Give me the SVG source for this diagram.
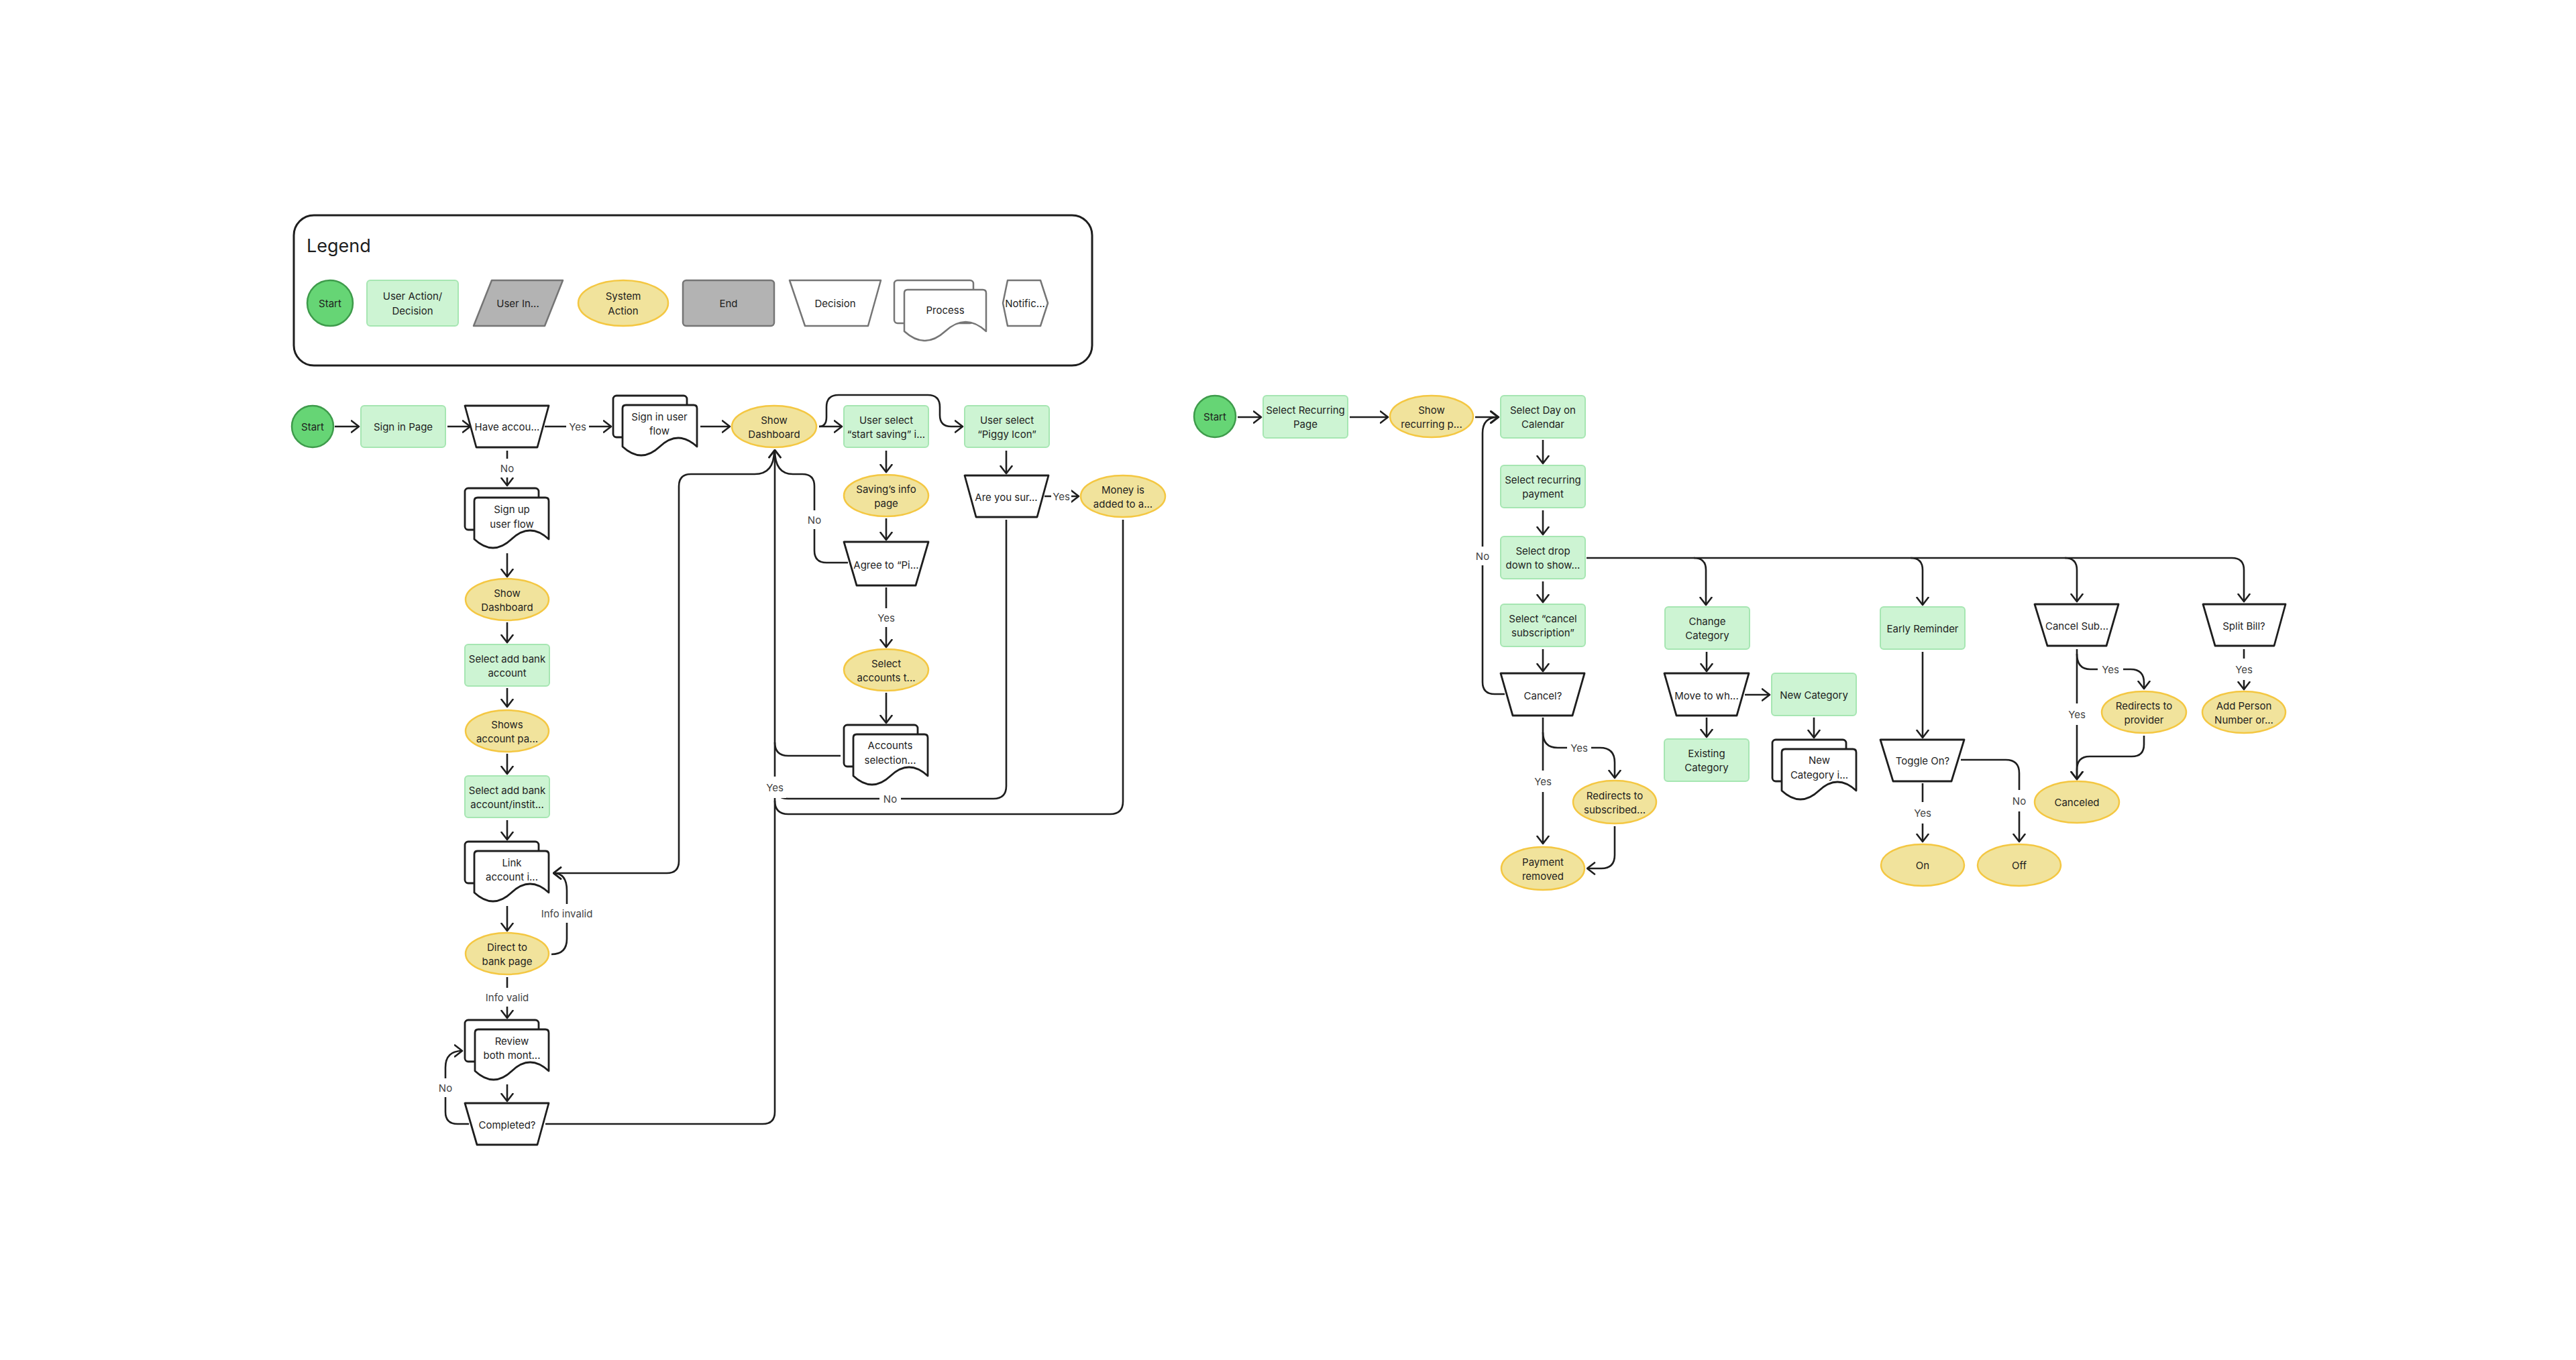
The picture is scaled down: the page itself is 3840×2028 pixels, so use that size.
<svg xmlns="http://www.w3.org/2000/svg" width="3840" height="2028" viewBox="0 0 3840 2028">
<defs>
<style>
text{font-family:Inter,"Noto Sans","Liberation Sans",sans-serif;font-size:15px;fill:#1e1e1e;text-anchor:middle;dominant-baseline:central}
.lbl{fill:#444}
.lb{fill:#fff}
.g{fill:#cdf4d3;stroke:#a6e6b2;stroke-width:2}
.y{fill:#f1e39c;stroke:#f4c742;stroke-width:2.5}
.s{fill:#66d575;stroke:#3e9b4b;stroke-width:2.5}
.w{fill:#fff;stroke:#1e1e1e;stroke-width:2.8;stroke-linejoin:round}
.gr{fill:#b3b3b3;stroke:#757575;stroke-width:2.5;stroke-linejoin:round}
.lw{fill:#fff;stroke:#757575;stroke-width:2.5;stroke-linejoin:round}
.c{fill:none;stroke:#1e1e1e;stroke-width:2.6}
.c.a{marker-end:url(#ah)}
</style>
<marker id="ah" viewBox="0 0 14 20" refX="12.5" refY="10" markerWidth="14" markerHeight="20" markerUnits="userSpaceOnUse" orient="auto">
<path d="M1.5,1.5 L12.5,10 L1.5,18.5" fill="none" stroke="#1e1e1e" stroke-width="2.6" stroke-linecap="round" stroke-linejoin="round"/>
</marker>
</defs>
<rect width="3840" height="2028" fill="#fff"/>

<g id="legend">
<rect x="438" y="321" width="1190" height="224" rx="30" fill="#fff" stroke="#1e1e1e" stroke-width="3"/>
<text x="457" y="366" style="text-anchor:start;font-size:27px;font-weight:400">Legend</text>
<circle cx="492" cy="452" r="34" class="s"/><text x="492" y="452">Start</text>
<rect x="547" y="418" width="136" height="68" rx="5" class="g"/><text x="615" y="441.5">User Action/</text><text x="615" y="463.5">Decision</text>
<polygon points="733,418 839,418 812,486 706,486" class="gr"/><text x="772" y="452">User In...</text>
<ellipse cx="929" cy="452" rx="67" ry="34" class="y"/><text x="929" y="441.5">System</text><text x="929" y="463.5">Action</text>
<rect x="1018" y="418" width="136" height="68" rx="5" class="gr"/><text x="1086" y="452">End</text>
<polygon points="1177,418 1313,418 1294,486 1200,486" class="lw"/><text x="1245" y="452">Decision</text>
<rect x="1333" y="418" width="118" height="64" rx="5" class="lw"/>
<path d="M1353,432 H1465 Q1470,432 1470,437 V494 Q1439.5,466 1409,494 T1348,494 V437 Q1348,432 1353,432 Z" class="lw"/><text x="1409" y="462">Process</text>
<polygon points="1502,418 1551,418 1562,452 1551,486 1502,486 1495,452" class="lw"/><text x="1528" y="452">Notific...</text>
</g>

<g id="connectors">
<path class="c a" d="M499,636 H535"/>
<path class="c a" d="M667,636 H701"/>
<path class="c a" d="M812,636 H911"/>
<path class="c a" d="M756,672 V724"/>
<path class="c a" d="M1044,636 H1088"/>
<path class="c a" d="M756,825 V860"/>
<path class="c a" d="M756,928 V958"/>
<path class="c a" d="M756,1026 V1054"/>
<path class="c a" d="M756,1124 V1154"/>
<path class="c a" d="M756,1223 V1252"/>
<path class="c a" d="M756,1351 V1388"/>
<path class="c a" d="M756,1457 V1518"/>
<path class="c a" d="M756,1617 V1642"/>
<path class="c a" d="M699,1676 H682 Q664,1676 664,1658 V1592 Q664,1567 689,1567"/>
<path class="c a" d="M822,1423 Q845,1423 845,1400 V1328 Q845,1302 825,1302"/>
<path class="c a" d="M1154,672 Q1154,707 1125,707 H1030 Q1012,707 1012,725 V1284 Q1012,1302 994,1302 H825"/>
<path class="c a" d="M813,1676 H1137 Q1155,1676 1155,1658 V671"/>
<path class="c a" d="M1264,839 H1232 Q1214,839 1214,821 V725 Q1214,707 1196,707 H1182 Q1155,707 1155,671"/>
<path class="c a" d="M1221,636 H1255"/>
<path class="c a" d="M1221,636 Q1232,636 1232,622 V607 Q1232,589 1250,589 H1383 Q1401,589 1401,607 V619 Q1401,636 1418,636 H1435"/>
<path class="c a" d="M1321,672 V704"/>
<path class="c a" d="M1321,773 V805"/>
<path class="c a" d="M1321,876 V965"/>
<path class="c a" d="M1321,1033 V1078"/>
<path class="c" d="M1253,1127 H1175 Q1155,1127 1155,1107"/>
<path class="c a" d="M1500,672 V706"/>
<path class="c a" d="M1557,740 H1608"/>
<path class="c" d="M1500,775 V1172 Q1500,1191 1481,1191 H1175 Q1155,1191 1155,1171"/>
<path class="c" d="M1674,775 V1195 Q1674,1214 1655,1214 H1175 Q1155,1214 1155,1194"/>

<path class="c a" d="M1845,622 H1880"/>
<path class="c a" d="M2012,622 H2069"/>
<path class="c a" d="M2199,622 H2234"/>
<path class="c a" d="M2243,1035 H2228 Q2210,1035 2210,1017 V646 Q2210,622 2233,622"/>
<path class="c a" d="M2300,656 V691"/>
<path class="c a" d="M2300,761 V797"/>
<path class="c a" d="M2300,867 V898"/>
<path class="c a" d="M2300,968 V1001"/>
<path class="c a" d="M2365,832 H3327 Q3345,832 3345,850 V897"/>
<path class="c a" d="M2525,832 Q2543,832 2543,850 V902"/>
<path class="c a" d="M2848,832 Q2866,832 2866,850 V902"/>
<path class="c a" d="M3078,832 Q3096,832 3096,850 V897"/>
<path class="c a" d="M2544,972 V1001"/>
<path class="c a" d="M2601,1036 H2638"/>
<path class="c a" d="M2544,1070 V1099"/>
<path class="c a" d="M2704,1070 V1100"/>
<path class="c a" d="M2866,972 V1100"/>
<path class="c a" d="M2866,1168 V1255"/>
<path class="c a" d="M2923,1133 H2990 Q3010,1133 3010,1153 V1255"/>
<path class="c a" d="M3096,968 V1162"/>
<path class="c a" d="M3096,975 Q3096,998 3116,998 H3176 Q3196,998 3196,1018 V1027"/>
<path class="c a" d="M3196,1097 V1110 Q3196,1128 3178,1128 H3115 Q3096,1128 3096,1148 V1162"/>
<path class="c a" d="M3345,968 V1028"/>
<path class="c a" d="M2300,1070 V1258"/>
<path class="c a" d="M2300,1092 Q2300,1115 2322,1115 H2385 Q2407,1115 2407,1137 V1160"/>
<path class="c a" d="M2407,1232 V1275 Q2407,1295 2387,1295 H2366"/>

<g id="labels">
<rect class="lb" x="844" y="622" width="34" height="28"/><text class="lbl" x="861" y="636">Yes</text>
<rect class="lb" x="742" y="684" width="28" height="28"/><text class="lbl" x="756" y="698">No</text>
<rect class="lb" x="803" y="1348" width="84" height="28"/><text class="lbl" x="845" y="1362">Info invalid</text>
<rect class="lb" x="719" y="1473" width="74" height="28"/><text class="lbl" x="756" y="1487">Info valid</text>
<rect class="lb" x="650" y="1608" width="28" height="28"/><text class="lbl" x="664" y="1622">No</text>
<rect class="lb" x="1200" y="761" width="28" height="28"/><text class="lbl" x="1214" y="775">No</text>
<rect class="lb" x="1304" y="907" width="34" height="28"/><text class="lbl" x="1321" y="921">Yes</text>
<rect class="lb" x="1567" y="726" width="30" height="28"/><text class="lbl" x="1582" y="740">Yes</text>
<rect class="lb" x="1138" y="1158" width="34" height="32"/><text class="lbl" x="1155" y="1174">Yes</text>
<rect class="lb" x="1311" y="1177" width="32" height="28"/><text class="lbl" x="1327" y="1191">No</text>
<rect class="lb" x="2196" y="815" width="28" height="28"/><text class="lbl" x="2210" y="829">No</text>
<rect class="lb" x="2283" y="1149" width="34" height="32"/><text class="lbl" x="2300" y="1165">Yes</text>
<rect class="lb" x="2336" y="1101" width="36" height="28"/><text class="lbl" x="2354" y="1115">Yes</text>
<rect class="lb" x="2849" y="1196" width="34" height="32"/><text class="lbl" x="2866" y="1212">Yes</text>
<rect class="lb" x="2996" y="1178" width="28" height="32"/><text class="lbl" x="3010" y="1194">No</text>
<rect class="lb" x="3079" y="1049" width="34" height="32"/><text class="lbl" x="3096" y="1065">Yes</text>
<rect class="lb" x="3127" y="984" width="38" height="28"/><text class="lbl" x="3146" y="998">Yes</text>
<rect class="lb" x="3328" y="982" width="34" height="32"/><text class="lbl" x="3345" y="998">Yes</text>
</g>
</g>

<g id="n-start1"><circle cx="466" cy="636" r="31" class="s"/><text x="466" y="636">Start</text></g>
<g id="n-signin"><rect x="538" y="605" width="126" height="62" rx="5" class="g"/><text x="601" y="636">Sign in Page</text></g>
<g id="n-have"><polygon points="693,605 818,605 801,667 710,667" class="w"/><text x="756" y="636">Have accou...</text></g>
<g id="n-signinflow"><rect x="914" y="590" width="110" height="62" rx="5" class="w"/><path d="M933,604 H1034 Q1039,604 1039,609 V666 Q1011,640 983.5,666 T928,666 V609 Q928,604 933,604 Z" class="w"/><text x="983" y="621">Sign in user</text><text x="983" y="642">flow</text></g>
<g id="n-signup"><rect x="693" y="728" width="110" height="62" rx="5" class="w"/><path d="M712,742 H813 Q818,742 818,747 V804 Q790,778 762.5,804 T707,804 V747 Q707,742 712,742 Z" class="w"/><text x="763" y="759">Sign up</text><text x="763" y="781">user flow</text></g>
<g id="n-dash1"><ellipse cx="756" cy="894" rx="62" ry="31" class="y"/><text x="756" y="884">Show</text><text x="756" y="905">Dashboard</text></g>
<g id="n-addbank"><rect x="693" y="961" width="126" height="62" rx="5" class="g"/><text x="756" y="982">Select add bank</text><text x="756" y="1003">account</text></g>
<g id="n-showsacct"><ellipse cx="756" cy="1090" rx="62" ry="31" class="y"/><text x="756" y="1080">Shows</text><text x="756" y="1101">account pa...</text></g>
<g id="n-addbank2"><rect x="693" y="1157" width="126" height="62" rx="5" class="g"/><text x="756" y="1178">Select add bank</text><text x="756" y="1199">account/instit...</text></g>
<g id="n-link"><rect x="693" y="1255" width="110" height="62" rx="5" class="w"/><path d="M712,1269 H813 Q818,1269 818,1274 V1331 Q790,1305 762.5,1331 T707,1331 V1274 Q707,1269 712,1269 Z" class="w"/><text x="763" y="1286">Link</text><text x="763" y="1307">account i...</text></g>
<g id="n-direct"><ellipse cx="756" cy="1422" rx="62" ry="31" class="y"/><text x="756" y="1412">Direct to</text><text x="756" y="1433">bank page</text></g>
<g id="n-review"><rect x="693" y="1521" width="110" height="62" rx="5" class="w"/><path d="M713,1535 H813 Q818,1535 818,1540 V1597 Q790,1571 763,1597 T708,1597 V1540 Q708,1535 713,1535 Z" class="w"/><text x="763" y="1552">Review</text><text x="763" y="1573">both mont...</text></g>
<g id="n-completed"><polygon points="693,1645 818,1645 801,1707 711,1707" class="w"/><text x="756" y="1677">Completed?</text></g>
<g id="n-dash2"><ellipse cx="1154" cy="636" rx="63" ry="31" class="y"/><text x="1154" y="626">Show</text><text x="1154" y="647">Dashboard</text></g>
<g id="n-startsaving"><rect x="1258" y="605" width="126" height="62" rx="5" class="g"/><text x="1321" y="626">User select</text><text x="1321" y="647">“start saving” i...</text></g>
<g id="n-piggy"><rect x="1438" y="605" width="126" height="62" rx="5" class="g"/><text x="1501" y="626">User select</text><text x="1501" y="647">“Piggy Icon”</text></g>
<g id="n-savinginfo"><ellipse cx="1321" cy="739" rx="63" ry="31" class="y"/><text x="1321" y="729">Saving’s info</text><text x="1321" y="750">page</text></g>
<g id="n-agree"><polygon points="1258,808 1384,808 1365,873 1277,873" class="w"/><text x="1321" y="842">Agree to “Pi...</text></g>
<g id="n-selaccounts"><ellipse cx="1321" cy="999" rx="63" ry="31" class="y"/><text x="1321" y="989">Select</text><text x="1321" y="1010">accounts t...</text></g>
<g id="n-accountssel"><rect x="1258" y="1081" width="110" height="62" rx="5" class="w"/><path d="M1277,1095 H1378 Q1383,1095 1383,1100 V1157 Q1355,1131 1327.5,1157 T1272,1157 V1100 Q1272,1095 1277,1095 Z" class="w"/><text x="1327" y="1111">Accounts</text><text x="1327" y="1133">selection...</text></g>
<g id="n-areyousure"><polygon points="1438,709 1563,709 1546,771 1455,771" class="w"/><text x="1500" y="741">Are you sur...</text></g>
<g id="n-money"><ellipse cx="1674" cy="740" rx="63" ry="31" class="y"/><text x="1674" y="730">Money is</text><text x="1674" y="751">added to a...</text></g>

<g id="n-start2"><circle cx="1811" cy="621" r="31" class="s"/><text x="1811" y="621">Start</text></g>
<g id="n-selrecur"><rect x="1883" y="590" width="126" height="63" rx="5" class="g"/><text x="1946" y="611">Select Recurring</text><text x="1946" y="632">Page</text></g>
<g id="n-showrecur"><ellipse cx="2134" cy="621" rx="62" ry="31" class="y"/><text x="2134" y="611">Show</text><text x="2134" y="632">recurring p...</text></g>
<g id="n-selday"><rect x="2237" y="590" width="126" height="63" rx="5" class="g"/><text x="2300" y="611">Select Day on</text><text x="2300" y="632">Calendar</text></g>
<g id="n-selpay"><rect x="2237" y="694" width="126" height="63" rx="5" class="g"/><text x="2300" y="715">Select recurring</text><text x="2300" y="736">payment</text></g>
<g id="n-seldrop"><rect x="2237" y="800" width="126" height="63" rx="5" class="g"/><text x="2300" y="821">Select drop</text><text x="2300" y="842">down to show...</text></g>
<g id="n-selcancel"><rect x="2237" y="901" width="126" height="63" rx="5" class="g"/><text x="2300" y="922">Select “cancel</text><text x="2300" y="943">subscription”</text></g>
<g id="n-cancel"><polygon points="2237,1004 2362,1004 2344,1067 2255,1067" class="w"/><text x="2300" y="1037">Cancel?</text></g>
<g id="n-redirsub"><ellipse cx="2407" cy="1196" rx="62" ry="32" class="y"/><text x="2407" y="1186">Redirects to</text><text x="2407" y="1207">subscribed...</text></g>
<g id="n-payremoved"><ellipse cx="2300" cy="1295" rx="62" ry="32" class="y"/><text x="2300" y="1285">Payment</text><text x="2300" y="1306">removed</text></g>
<g id="n-changecat"><rect x="2482" y="905" width="126" height="63" rx="5" class="g"/><text x="2545" y="926">Change</text><text x="2545" y="947">Category</text></g>
<g id="n-moveto"><polygon points="2481,1004 2607,1004 2589,1067 2499,1067" class="w"/><text x="2544" y="1037">Move to wh...</text></g>
<g id="n-newcat"><rect x="2641" y="1004" width="126" height="63" rx="5" class="g"/><text x="2704" y="1036">New Category</text></g>
<g id="n-existcat"><rect x="2481" y="1102" width="126" height="63" rx="5" class="g"/><text x="2544" y="1123">Existing</text><text x="2544" y="1144">Category</text></g>
<g id="n-newcatdoc"><rect x="2642" y="1103" width="110" height="62" rx="5" class="w"/><path d="M2661,1117 H2762 Q2767,1117 2767,1122 V1179 Q2739,1153 2711.5,1179 T2656,1179 V1122 Q2656,1117 2661,1117 Z" class="w"/><text x="2712" y="1133">New</text><text x="2712" y="1155">Category i...</text></g>
<g id="n-early"><rect x="2803" y="905" width="126" height="63" rx="5" class="g"/><text x="2866" y="937">Early Reminder</text></g>
<g id="n-toggle"><polygon points="2803,1103 2928,1103 2909,1165 2822,1165" class="w"/><text x="2866" y="1134">Toggle On?</text></g>
<g id="n-on"><ellipse cx="2866" cy="1290" rx="62" ry="31" class="y"/><text x="2866" y="1290">On</text></g>
<g id="n-off"><ellipse cx="3010" cy="1290" rx="62" ry="31" class="y"/><text x="3010" y="1290">Off</text></g>
<g id="n-cancelsub"><polygon points="3033,901 3158,901 3140,963 3052,963" class="w"/><text x="3096" y="933">Cancel Sub...</text></g>
<g id="n-redirprov"><ellipse cx="3196" cy="1062" rx="63" ry="31" class="y"/><text x="3196" y="1052">Redirects to</text><text x="3196" y="1073">provider</text></g>
<g id="n-canceled"><ellipse cx="3096" cy="1196" rx="63" ry="31" class="y"/><text x="3096" y="1196">Canceled</text></g>
<g id="n-split"><polygon points="3284,901 3407,901 3390,963 3302,963" class="w"/><text x="3345" y="933">Split Bill?</text></g>
<g id="n-addperson"><ellipse cx="3345" cy="1062" rx="62" ry="31" class="y"/><text x="3345" y="1052">Add Person</text><text x="3345" y="1073">Number or...</text></g>
</svg>
